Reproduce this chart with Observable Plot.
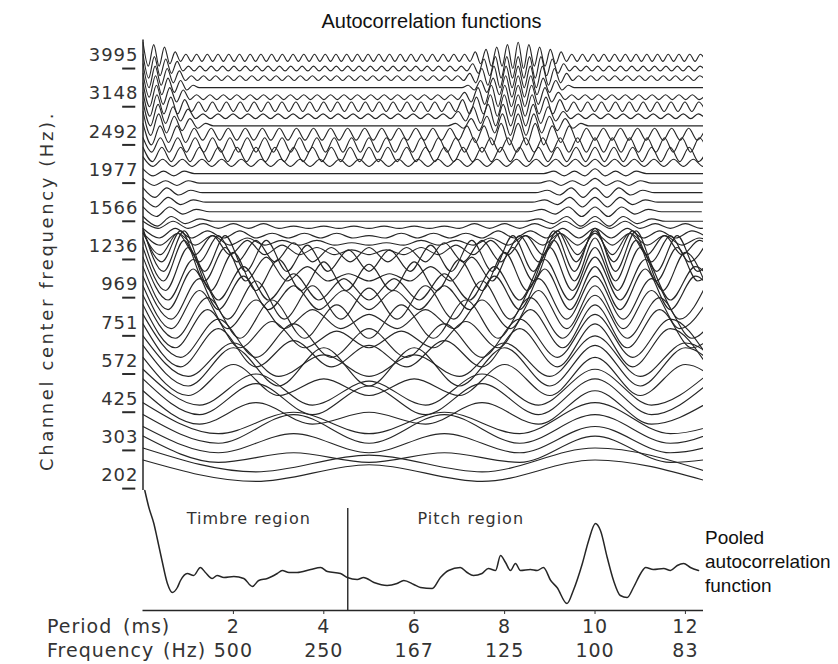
<!DOCTYPE html>
<html>
<head>
<meta charset="utf-8">
<script src="https://cdn.jsdelivr.net/npm/d3@7"></script>
<script src="https://cdn.jsdelivr.net/npm/@observablehq/plot@0.6"></script>
<style>
  body { margin: 0; background: #fff; }
  #chart { position: relative; width: 838px; height: 664px; overflow: hidden; background: #fff; }
  .abs { position: absolute; white-space: nowrap; }
  .sans { font-family: "Liberation Sans", Arial, sans-serif; color: #111; }
  .scan { font-family: "DejaVu Sans", sans-serif; color: #333; }
</style>
</head>
<body>
<div id="chart"></div>
<script>
// ---------------- data ----------------
// Channel axis (index of channel, bottom = 0) and its labels
const channelTickIndex = [0, 4, 8, 12, 16, 20, 24, 28, 32, 36, 40, 44];
const channelTickLabels = ["202", "303", "425", "572", "751", "969", "1236", "1566", "1977", "2492", "3148", "3995"];
// the short underline tick of each label, as a lag span left of the plot (ms)
const channelTickSpanMs = [-0.45, -0.16];

// Per channel: number of fine-structure cycles per repetition period, and that period (ms)
const channelCycles = [2,2,3,3,3,3,4,4,4,5,5,5,6,6,7,7,8,8,9,9,10,11,11,12,13,13,14,15,
                       16,17,18,19,20,22,23,24,26,22,24,25,27,28,30,31,33,35];
const channelRepeatMs = [10,10,10,10,10,10,10,10,10,10,10,10,10,10,10,10,10,10,10,10,10,10,10,10,10,10,10,10,
                         10,10,10,10,10,10,10,10,10,8.3,8.3,8.3,8.3,8.3,8.3,8.3,8.3,8.3];
// Successive extremes (peak, trough, peak, ...) of each channel's autocorrelation,
// one character each: level = (index in LEVELS - 4) / 4 channel spacings above the channel.
const LEVELS = "0123456789ABCDEFGHIJKLMNOPQRSTUVWXYZ";
const channelExtremes = [
  "G7E7G7",
  "H7E7H7",
  "I7B7B7I7B",
  "I7F7F7I7F",
  "J7J7J7J7J",
  "K7G7G7K7G",
  "L7G7C7G7L7G",
  "M7K7J7K7M7K",
  "M7K7H7K7M7K",
  "N7K7E7E7K7N7K7",
  "O7N7N7N7N7O7N7",
  "O7L7G7G7L7O7L7",
  "P7N7I7G7I7N7P7N7",
  "P7N7L7J7L7N7P7N7",
  "P7N7I7E7E7I7N7P7N7I",
  "P7O7N7L7L7N7O7P7O7N",
  "P7N7J7F7D7F7J7N7P7N7J",
  "P7O7N7L7K7L7N7O7P7O7N",
  "P7O7L7H7F7F7H7L7O7P7O7L7",
  "P7O7L7I7G7G7I7L7O7P7O7L7",
  "P7P7N7K7J7I7J7K7N7P7P7P7N7",
  "P7O7L7H7D7A7A7D7H7L7O7P7O7L7H",
  "P7O7M7K7I7G7G7I7K7M7O7P7O7M7K",
  "K7K7I7G7F7D7D7D7F7G7I7K7K7K7I7G",
  "F6F6E6C6A696868696A6C6E6F6F6F6E6C6",
  "B6B6A69686867676868696A6B6B6B6A696",
  "959585857575756575757585859595958585",
  "858575757565656565656575757585858575757",
  "626354" + "4".repeat(22) + "536262635" + "4444",
  "626354" + "4".repeat(24) + "536262635" + "4444",
  "626354" + "4".repeat(26) + "536262635" + "44444",
  "626354" + "4".repeat(28) + "536262635" + "44444",
  "635354" + "4".repeat(30) + "535363535" + "444444",
  "635354" + "4".repeat(34) + "535363535" + "4444444",
  "7" + "36".repeat(29),
  "71".repeat(30) + "7",
  "71".repeat(33),
  "90818172" + "72".repeat(14) + "72818090909081817" + "27".repeat(7),
  "A091827354" + "4".repeat(29) + "4537281909091827354" + "4".repeat(15),
  "A0918273" + "53".repeat(17) + "628190909091826" + "3" + "53".repeat(9),
  "A0918172" + "62".repeat(19) + "718190909091817" + "2" + "62".repeat(10),
  "A0918273" + "53".repeat(20) + "628190909091826" + "35".repeat(11),
  "A091827354" + "4".repeat(41) + "4537281909091827354" + "4".repeat(21),
  "A0918273" + "53".repeat(23) + "62819090909091826" + "3" + "53".repeat(11),
  "A0918273" + "53".repeat(25) + "62819090909091826" + "3" + "53".repeat(12),
  "B1A19273" + "63".repeat(27) + "728191A0B0A191827" + "3" + "63".repeat(13)
];

// Pooled autocorrelation function (lag in ms, arbitrary units)
const pooledLagMs = [0.04,0.13,0.24,0.31,0.42,0.54,0.65,0.76,0.83,0.98,1.12,1.27,1.38,1.53,1.64,1.79,2.01,2.23,2.42,2.56,
  2.75,2.97,3.08,3.23,3.41,3.71,3.93,4.08,4.37,4.52,4.74,4.88,5.11,5.40,5.62,5.77,5.99,6.14,6.40,6.58,
  6.76,7.02,7.17,7.31,7.50,7.64,7.80,7.91,8.02,8.13,8.24,8.35,8.57,8.72,8.86,9.02,9.16,9.38,9.52,9.72,
  9.86,10.01,10.12,10.27,10.41,10.56,10.71,10.85,11.01,11.12,11.29,11.52,11.67,11.82,11.96,12.11,12.29];
const pooledValue = [12.0,10.3,8.7,7.3,5.0,2.7,1.8,2.3,3.0,3.7,3.5,4.3,3.8,3.2,3.5,3.3,3.4,3.2,2.4,3.0,
  3.2,3.7,4.0,3.8,3.8,4.1,4.3,3.9,3.7,3.3,3.1,3.3,2.8,2.5,2.7,3.0,2.6,2.3,2.2,3.3,
  4.0,4.3,3.8,3.5,3.7,4.2,4.0,5.5,4.8,4.0,4.7,4.0,4.1,4.0,4.3,3.0,2.3,0.7,2.0,4.7,
  7.0,8.7,8.0,5.3,3.0,1.5,1.3,2.3,3.7,4.3,4.1,4.2,4.0,4.5,4.7,4.3,4.0];

const periodTicksMs = [2, 4, 6, 8, 10, 12];
const frequencyTickLabels = ["500", "250", "167", "125", "100", "83"];

const regionNames = ["Timbre region", "Pitch region"];
const regionCentersMs = [2.34, 7.25];
const regionLabelLevel = 9.2;
const regionBoundaryMs = 4.53;
const regionBoundaryTop = 10.2;

// ---------------- tables ----------------
const channelRows = [];
channelExtremes.forEach((s, k) => {
  const step = channelRepeatMs[k] / (2 * channelCycles[k]);
  for (let i = 0; i < s.length; i++) {
    channelRows.push({channel: k, lag: i * step, level: k + (LEVELS.indexOf(s[i]) - 4) / 4});
  }
});
const pooled = pooledLagMs.map((lag, i) => ({lag, value: pooledValue[i]}));
const regions = regionNames.map((name, i) => ({name, center: regionCentersMs[i], level: regionLabelLevel}));
const boundary = [{lag: regionBoundaryMs, top: regionBoundaryTop}];

const ink = "#262626";
const svgStyle = {background: "transparent", overflow: "visible", fontFamily: "DejaVu Sans, sans-serif", color: "#333", letterSpacing: "1px"};

// ---------------- channel panel ----------------
const topPlot = Plot.plot({
  width: 838, height: 500,
  marginLeft: 142.5, marginRight: 135, marginTop: 39.4, marginBottom: 10,
  x: {domain: [0, 12.4], axis: null},
  y: {domain: [-0.2, 47], axis: null},
  style: svgStyle,
  marks: [
    Plot.line(channelRows, {x: "lag", y: "level", z: "channel", curve: "monotone-x", stroke: ink, strokeWidth: 1.15, clip: true}),
    Plot.ruleX([0], {stroke: ink, strokeWidth: 1.5}),
    Plot.ruleY(channelTickIndex, {x1: channelTickSpanMs[0], x2: channelTickSpanMs[1], stroke: "#2a2a2a", strokeWidth: 2}),
    Plot.axisY(channelTickIndex, {tickSize: 0, tickPadding: 4.5, dy: -13, fontSize: 18, label: null,
      tickFormat: k => channelTickLabels[channelTickIndex.indexOf(k)]})
  ]
});

// ---------------- pooled panel ----------------
const bottomPlot = Plot.plot({
  width: 838, height: 174,
  marginLeft: 142.5, marginRight: 135, marginTop: 0, marginBottom: 54,
  x: {domain: [0, 12.4], axis: null},
  y: {domain: [0, 12], axis: null},
  style: svgStyle,
  marks: [
    Plot.ruleY([0], {stroke: ink, strokeWidth: 1.5}),
    Plot.ruleX(boundary, {x: "lag", y1: 0, y2: "top", stroke: ink, strokeWidth: 1.4}),
    Plot.line(pooled, {x: "lag", y: "value", curve: "monotone-x", stroke: ink, strokeWidth: 1.5}),
    Plot.text(regions, {x: "center", y: "level", text: "name", fontSize: 16, fill: "#333"}),
    Plot.axisX(periodTicksMs, {tickSize: 4, tickPadding: 5, fontSize: 19, label: null, tickFormat: d => String(d)}),
    Plot.axisX(periodTicksMs, {tickSize: 0, tickPadding: 33, fontSize: 19, label: null,
      tickFormat: d => frequencyTickLabels[periodTicksMs.indexOf(d)]})
  ]
});

// ---------------- layout ----------------
const chart = document.getElementById("chart");
topPlot.style.position = "absolute"; topPlot.style.left = "0px"; topPlot.style.top = "0px";
bottomPlot.style.position = "absolute"; bottomPlot.style.left = "0px"; bottomPlot.style.top = "490px";
chart.appendChild(topPlot);
chart.appendChild(bottomPlot);

function addText(html, cls, css) {
  const d = document.createElement("div");
  d.className = "abs " + cls;
  d.innerHTML = html;
  Object.assign(d.style, css);
  chart.appendChild(d);
  return d;
}
addText("Autocorrelation functions", "sans", {left: "431.5px", top: "11px", fontSize: "20px", lineHeight: "20px", transform: "translateX(-50%)"});
addText("Pooled<br>autocorrelation<br>function", "sans", {left: "705px", top: "526px", fontSize: "19px", lineHeight: "24px"});
addText("Channel center frequency (Hz).", "scan", {left: "47px", top: "291px", fontSize: "18px", lineHeight: "20px", letterSpacing: "2.6px", transform: "translate(-50%,-50%) rotate(-90deg)"});
addText("Period", "scan", {left: "47px", top: "614px", fontSize: "19px", lineHeight: "24px", letterSpacing: "1px"});
addText("(ms)", "scan", {left: "123px", top: "614px", fontSize: "19px", lineHeight: "24px", letterSpacing: "1px"});
addText("Frequency", "scan", {left: "47px", top: "638px", fontSize: "19px", lineHeight: "24px", letterSpacing: "1px"});
addText("(Hz)", "scan", {left: "163px", top: "638px", fontSize: "19px", lineHeight: "24px", letterSpacing: "1px"});
</script>
</body>
</html>
